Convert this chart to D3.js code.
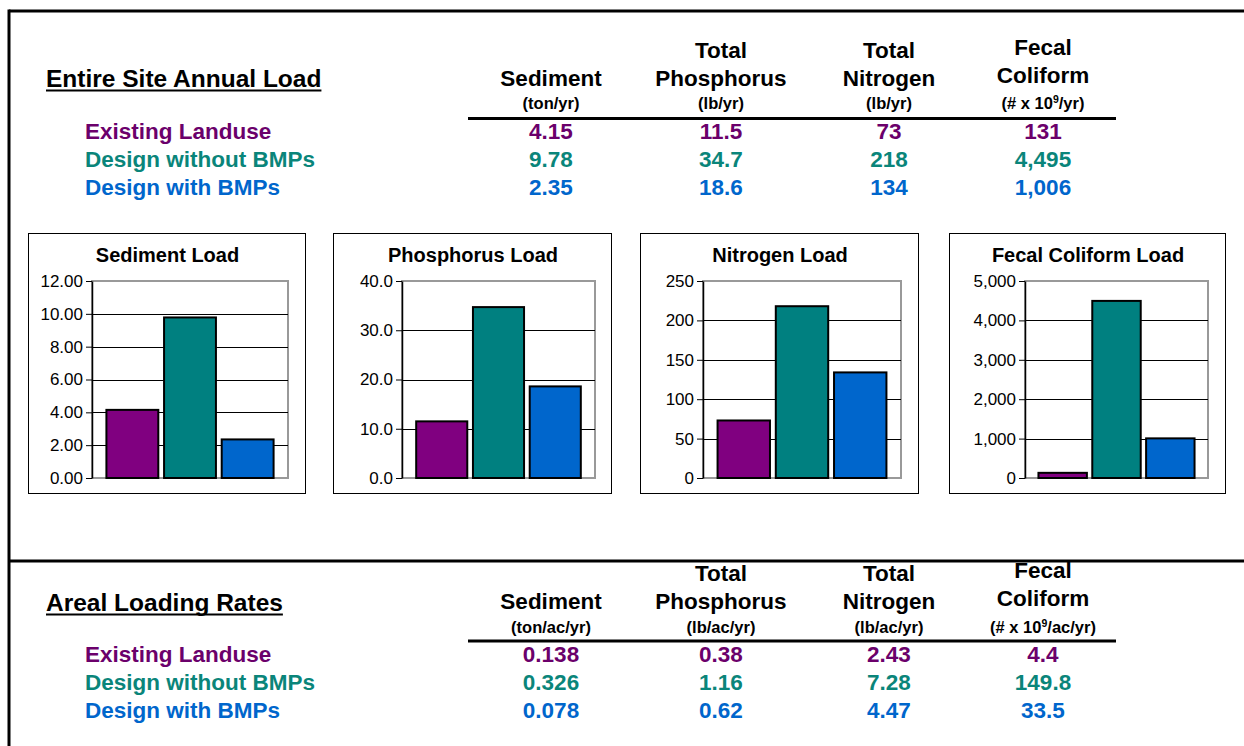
<!DOCTYPE html>
<html>
<head>
<meta charset="utf-8">
<script src="https://cdn.jsdelivr.net/npm/d3@7"></script>
<style>
  html, body { margin: 0; padding: 0; background: #fff; }
  svg { display: block; font-family: "Liberation Sans", Arial, sans-serif; }
</style>
</head>
<body>
<svg id="chart" width="1244" height="746"></svg>
<script>
// ---------- DATA ----------
const scenarios = ["Existing Landuse", "Design without BMPs", "Design with BMPs"];
const parameters = ["Sediment", "Phosphorus", "Nitrogen", "Fecal Coliform"];
const headerLine1 = ["", "Total", "Total", "Fecal"];
const headerLine2 = ["Sediment", "Phosphorus", "Nitrogen", "Coliform"];
const annualUnits = [["(ton/yr)"], ["(lb/yr)"], ["(lb/yr)"], ["(# x 10", "9", "/yr)"]];
const arealUnits = [["(ton/ac/yr)"], ["(lb/ac/yr)"], ["(lb/ac/yr)"], ["(# x 10", "9", "/ac/yr)"]];

// Entire site annual load (per parameter, values for the three scenarios)
const annualSediment = [4.15, 9.78, 2.35];
const annualPhosphorus = [11.5, 34.7, 18.6];
const annualNitrogen = [73, 218, 134];
const annualFecal = [131, 4495, 1006];

// Areal loading rates
const arealSediment = [0.138, 0.326, 0.078];
const arealPhosphorus = [0.38, 1.16, 0.62];
const arealNitrogen = [2.43, 7.28, 4.47];
const arealFecal = [4.4, 149.8, 33.5];

// Chart titles and axis ticks
const chartTitles = ["Sediment Load", "Phosphorus Load", "Nitrogen Load", "Fecal Coliform Load"];
const sedimentTicks = [0, 2, 4, 6, 8, 10, 12];
const phosphorusTicks = [0, 10, 20, 30, 40];
const nitrogenTicks = [0, 50, 100, 150, 200, 250];
const fecalTicks = [0, 1000, 2000, 3000, 4000, 5000];

// ---------- STYLE / LAYOUT ----------
const barColors = ["#800080", "#008080", "#0066CC"];
const textColors = ["#6B006B", "#0A857A", "#0066CC"];
const annualFormats = [".2f", ".1f", "d", ","].map(f => d3.format(f));
const arealFormats = [".3f", ".2f", ".2f", ".1f"].map(f => d3.format(f));
const tickFormats = [".2f", ".1f", "d", ","].map(f => d3.format(f));
const colX = [551, 721, 889, 1043];

const svg = d3.select("#chart");
const FONT_MAIN = 22.5;

// Outer frame lines
svg.append("line").attr("x1", 9).attr("x2", 1244).attr("y1", 11).attr("y2", 11)
  .attr("stroke", "#000").attr("stroke-width", 3);
svg.append("line").attr("x1", 9).attr("x2", 9).attr("y1", 9.5).attr("y2", 746)
  .attr("stroke", "#000").attr("stroke-width", 3);
svg.append("line").attr("x1", 9).attr("x2", 1244).attr("y1", 561).attr("y2", 561)
  .attr("stroke", "#000").attr("stroke-width", 3);

function drawTable(opts) {
  const g = svg.append("g");
  // title with underline
  const t = g.append("text").attr("x", 46).attr("y", opts.titleY)
    .attr("font-size", 24.5).attr("font-weight", "bold").attr("fill", "#000")
    .text(opts.title);
  const bb = t.node().getBBox();
  g.append("line").attr("x1", bb.x).attr("x2", bb.x + bb.width)
    .attr("y1", opts.titleY + 3.5).attr("y2", opts.titleY + 3.5)
    .attr("stroke", "#000").attr("stroke-width", 2.2);

  // column headers
  parameters.forEach((p, i) => {
    const shift = i === 3 ? -3 : 0;
    if (headerLine1[i]) {
      g.append("text").attr("x", colX[i]).attr("y", opts.head1Y + shift)
        .attr("text-anchor", "middle").attr("font-size", FONT_MAIN).attr("font-weight", "bold")
        .text(headerLine1[i]);
    }
    g.append("text").attr("x", colX[i]).attr("y", opts.head1Y + 28 + shift)
      .attr("text-anchor", "middle").attr("font-size", FONT_MAIN).attr("font-weight", "bold")
      .text(headerLine2[i]);
    const u = g.append("text").attr("x", colX[i]).attr("y", opts.unitY)
      .attr("text-anchor", "middle").attr("font-size", 16.5).attr("font-weight", "bold");
    const parts = opts.units[i];
    u.append("tspan").text(parts[0]);
    if (parts.length > 1) {
      u.append("tspan").attr("dy", -6).attr("font-size", 10.5).text(parts[1]);
      u.append("tspan").attr("dy", 6).text(parts[2]);
    }
  });

  // header rule
  g.append("line").attr("x1", 468).attr("x2", 1116).attr("y1", opts.ruleY).attr("y2", opts.ruleY)
    .attr("stroke", "#000").attr("stroke-width", 3);

  // rows
  scenarios.forEach((s, r) => {
    const y = opts.rowY + r * 28;
    g.append("text").attr("x", 85).attr("y", y).attr("font-size", FONT_MAIN)
      .attr("font-weight", "bold").attr("fill", textColors[r]).text(s);
    opts.values.forEach((arr, c) => {
      g.append("text").attr("x", colX[c]).attr("y", y).attr("text-anchor", "middle")
        .attr("font-size", FONT_MAIN).attr("font-weight", "bold").attr("fill", textColors[r])
        .text(opts.formats[c](arr[r]));
    });
  });
}

drawTable({
  title: "Entire Site Annual Load", titleY: 87,
  head1Y: 58, unitY: 109, ruleY: 118.5, rowY: 139,
  units: annualUnits,
  values: [annualSediment, annualPhosphorus, annualNitrogen, annualFecal],
  formats: annualFormats
});

drawTable({
  title: "Areal Loading Rates", titleY: 611,
  head1Y: 581, unitY: 633, ruleY: 641, rowY: 662,
  units: arealUnits,
  values: [arealSediment, arealPhosphorus, arealNitrogen, arealFecal],
  formats: arealFormats
});

// ---------- BAR CHARTS ----------
const chartData = [annualSediment, annualPhosphorus, annualNitrogen, annualFecal];
const chartTicks = [sedimentTicks, phosphorusTicks, nitrogenTicks, fecalTicks];
const boxes = [
  { x0: 28, x1: 305, px0: 92, px1: 288 },
  { x0: 333, x1: 611, px0: 402, px1: 595 },
  { x0: 640, x1: 918, px0: 703, px1: 901 },
  { x0: 949, x1: 1225, px0: 1025, px1: 1208 }
];
const boxTop = 233, boxBottom = 493, plotTop = 281, plotBottom = 478;

chartData.forEach((vals, i) => {
  const b = boxes[i];
  const g = svg.append("g");
  g.append("rect").attr("x", b.x0 + 0.5).attr("y", boxTop + 0.5)
    .attr("width", b.x1 - b.x0).attr("height", boxBottom - boxTop)
    .attr("fill", "#fff").attr("stroke", "#000").attr("stroke-width", 1);

  g.append("text").attr("x", (b.x0 + b.x1) / 2 + 1).attr("y", 262)
    .attr("text-anchor", "middle").attr("font-size", 20).attr("font-weight", "bold")
    .text(chartTitles[i]);

  const ticks = chartTicks[i];
  const y = d3.scaleLinear().domain([0, d3.max(ticks)]).range([plotBottom, plotTop]);
  const x = d3.scaleBand().domain(scenarios).range([b.px0, b.px1])
    .paddingInner(0.1).paddingOuter(0.25);

  // plot frame (gray)
  g.append("rect").attr("x", b.px0).attr("y", plotTop)
    .attr("width", b.px1 - b.px0).attr("height", plotBottom - plotTop)
    .attr("fill", "none").attr("stroke", "#999").attr("stroke-width", 2);

  // gridlines
  g.selectAll(".grid").data(ticks.filter(t => t > 0 && t < d3.max(ticks))).enter()
    .append("line").attr("x1", b.px0).attr("x2", b.px1)
    .attr("y1", d => Math.round(y(d)) + 0.5).attr("y2", d => Math.round(y(d)) + 0.5)
    .attr("stroke", "#000").attr("stroke-width", 1);

  // y axis
  const axis = d3.axisLeft(y).tickValues(ticks).tickFormat(tickFormats[i])
    .tickSize(6).tickSizeOuter(0).tickPadding(3);
  const ag = g.append("g").attr("transform", `translate(${b.px0},0)`).call(axis);
  ag.select(".domain").attr("stroke", "#000").attr("stroke-width", 1.5);
  ag.selectAll(".tick line").attr("stroke", "#000").attr("stroke-width", 1);
  ag.selectAll(".tick text").attr("font-size", 17).attr("fill", "#000")
    .attr("font-family", "'Liberation Sans', Arial, sans-serif");

  // bars
  g.selectAll(".bar").data(vals).enter().append("rect")
    .attr("x", (d, k) => x(scenarios[k]))
    .attr("y", d => y(d))
    .attr("width", x.bandwidth())
    .attr("height", d => plotBottom - y(d))
    .attr("fill", (d, k) => barColors[k])
    .attr("stroke", "#000").attr("stroke-width", 2);
});
</script>
</body>
</html>
